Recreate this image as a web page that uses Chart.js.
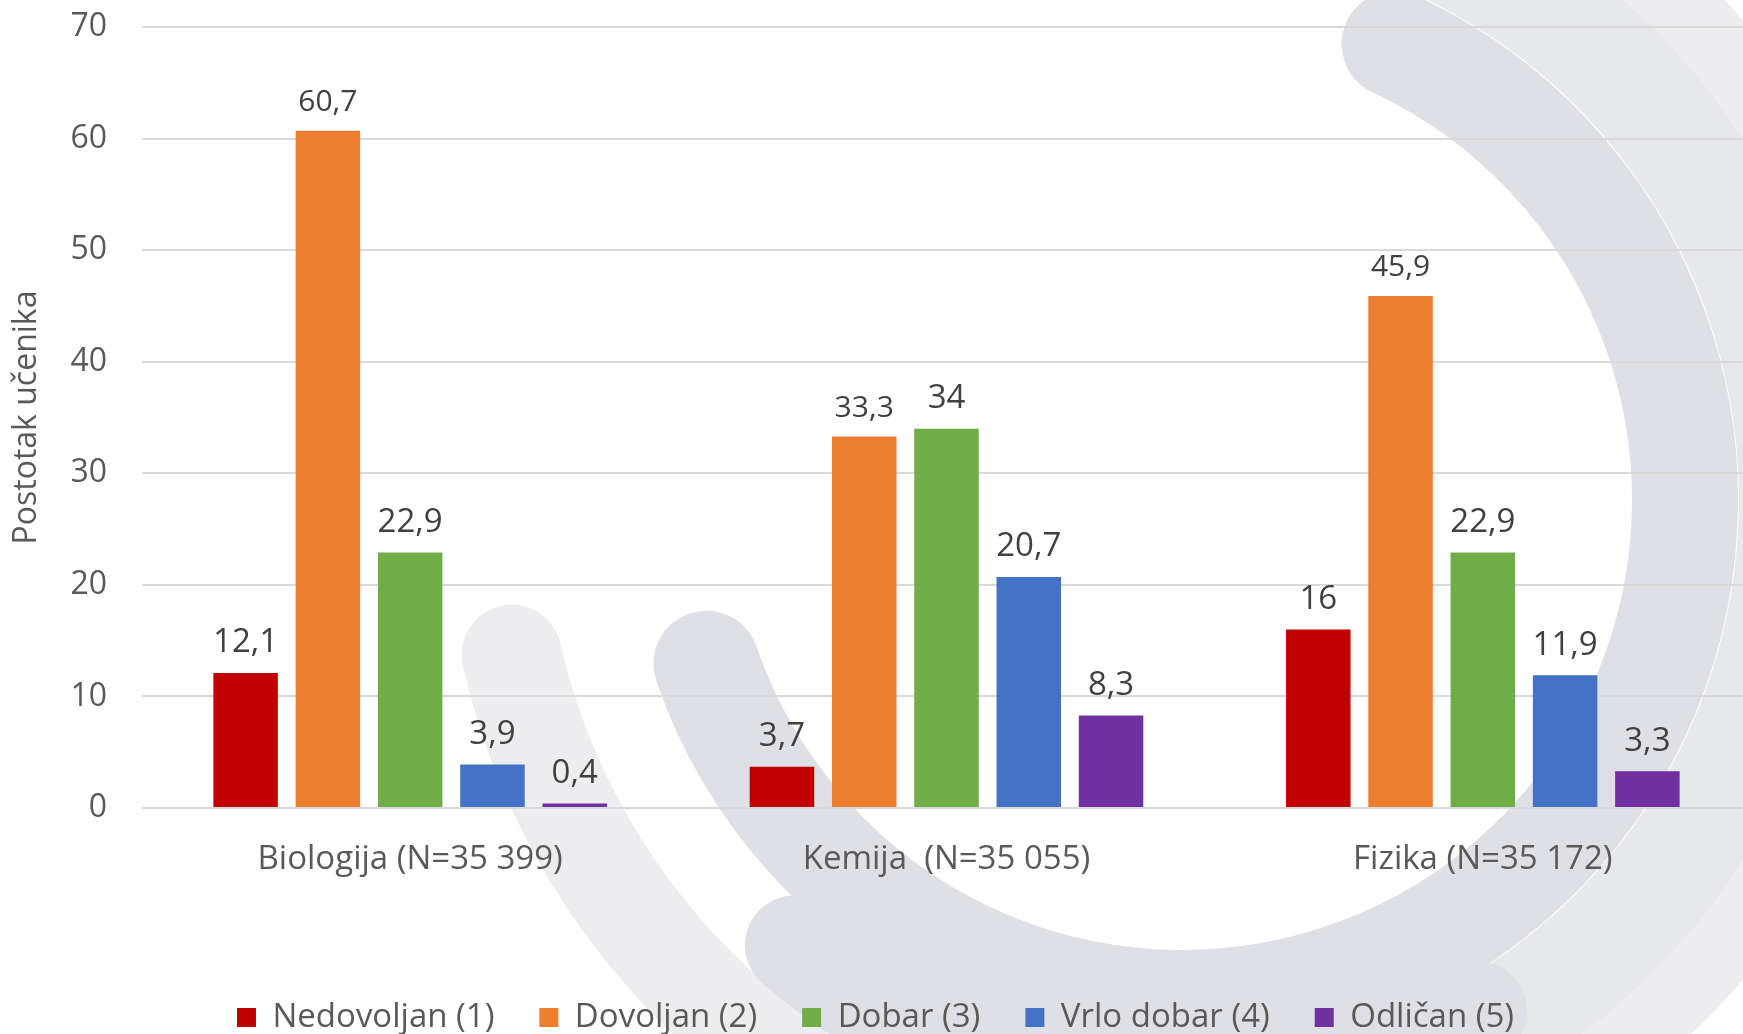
<!DOCTYPE html>
<html>
<head>
<meta charset="utf-8">
<script src="https://cdn.jsdelivr.net/npm/chart.js@4.4.1/dist/chart.umd.min.js"></script>
<style>
  html, body { margin: 0; padding: 0; overflow: hidden; background: #fff; }
  #wrap { position: relative; width: 1751px; height: 1044px; }
</style>
</head>
<body>
<div id="wrap"><canvas id="ocjene"></canvas></div>
<script>
// podaci s grafa (postotak učenika po ocjeni)
const subjects = ['Biologija (N=35 399)', 'Kemija  (N=35 055)', 'Fizika (N=35 172)'];
const grades = ['Nedovoljan (1)', 'Dovoljan (2)', 'Dobar (3)', 'Vrlo dobar (4)', 'Odličan (5)'];
const nedovoljan = [12.1, 3.7, 16];
const dovoljan = [60.7, 33.3, 45.9];
const dobar = [22.9, 34, 22.9];
const vrloDobar = [3.9, 20.7, 11.9];
const odlican = [0.4, 8.3, 3.3];
const yTicks = [0, 10, 20, 30, 40, 50, 60, 70];

const gradeColors = ['#C00000', '#ED7D31', '#70AD47', '#4472C4', '#7030A0'];
const seriesValues = [nedovoljan, dovoljan, dobar, vrloDobar, odlican];

Chart.defaults.font.family = '"Open Sans", sans-serif';

// sivi luk u pozadini (vodeni žig)
const swooshCenter = { x: 1182, y: 500 };
const swooshes = [
  { r: 688, w: 100, from: -62, to: 167, color: '#ededf0' },
  { r: 612, w: 110, from: -80, to: 75, color: '#e7e8ec' },
  { r: 590, w: 100, from: 60, to: 131, color: '#dfe0e5' },
  { r: 503, w: 106, from: -65, to: 161, color: '#dfe0e5' }
];

const backgroundPlugin = {
  id: 'backgroundPlugin',
  beforeDraw(chart) {
    const ctx = chart.ctx;
    ctx.save();
    ctx.fillStyle = '#fff';
    ctx.fillRect(0, 0, chart.width, chart.height);
    ctx.lineCap = 'round';
    swooshes.forEach(s => {
      ctx.beginPath();
      ctx.strokeStyle = s.color;
      ctx.lineWidth = s.w;
      ctx.arc(swooshCenter.x, swooshCenter.y, s.r, s.from * Math.PI / 180, s.to * Math.PI / 180, false);
      ctx.stroke();
    });
    ctx.restore();
  }
};

// vrijednosti iznad stupaca (decimalni zarez)
const valueLabels = {
  id: 'valueLabels',
  afterDatasetsDraw(chart) {
    const ctx = chart.ctx;
    ctx.save();
    ctx.textAlign = 'center';
    ctx.textBaseline = 'middle';
    ctx.fillStyle = '#404040';
    chart.data.datasets.forEach((ds, i) => {
      const meta = chart.getDatasetMeta(i);
      const small = i === 1; // narančaste oznake su manje
      ctx.font = (small ? '30px' : '33px') + ' "Open Sans", sans-serif';
      meta.data.forEach((bar, j) => {
        ctx.fillText(String(ds.data[j]).replace('.', ','), bar.x, bar.y - (small ? 28 : 30));
      });
    });
    ctx.restore();
  }
};

new Chart(document.getElementById('ocjene'), {
  type: 'bar',
  data: {
    labels: subjects,
    datasets: grades.map((g, i) => ({
      label: g,
      data: seriesValues[i],
      backgroundColor: gradeColors[i],
      categoryPercentage: 0.767,
      barPercentage: 0.784
    }))
  },
  options: {
    responsive: true,
    maintainAspectRatio: false,
    animation: false,
    layout: { padding: { top: 27, left: 0, right: 0, bottom: 0 } },
    plugins: {
      tooltip: { enabled: false },
      legend: {
        position: 'bottom',
        labels: {
          boxWidth: 19,
          boxHeight: 19,
          padding: 45,
          color: '#595959',
          font: { size: 33 }
        }
      }
    },
    scales: {
      x: {
        grid: { display: false },
        border: { display: false },
        ticks: { color: '#595959', font: { size: 33 }, padding: 24, maxRotation: 0 },
        afterFit(scale) { scale.height = 148; }
      },
      y: {
        min: yTicks[0],
        max: yTicks[yTicks.length - 1],
        afterBuildTicks(scale) { scale.ticks = yTicks.map(v => ({ value: v })); },
        // razmak do oznaka preko nevidljivih crtica, da ne poveća gornji rub
        grid: { color: '#d9d9d9', lineWidth: 2, drawTicks: true, tickLength: 35, tickColor: 'rgba(0,0,0,0)' },
        border: { display: false },
        ticks: { color: '#595959', font: { size: 32 }, padding: 0 },
        title: {
          display: true,
          text: 'Postotak učenika',
          color: '#595959',
          font: { size: 32 },
          padding: { top: 8, bottom: 0 }
        },
        afterFit(scale) { scale.width = 142; }
      }
    }
  },
  plugins: [backgroundPlugin, valueLabels]
});
</script>
</body>
</html>
